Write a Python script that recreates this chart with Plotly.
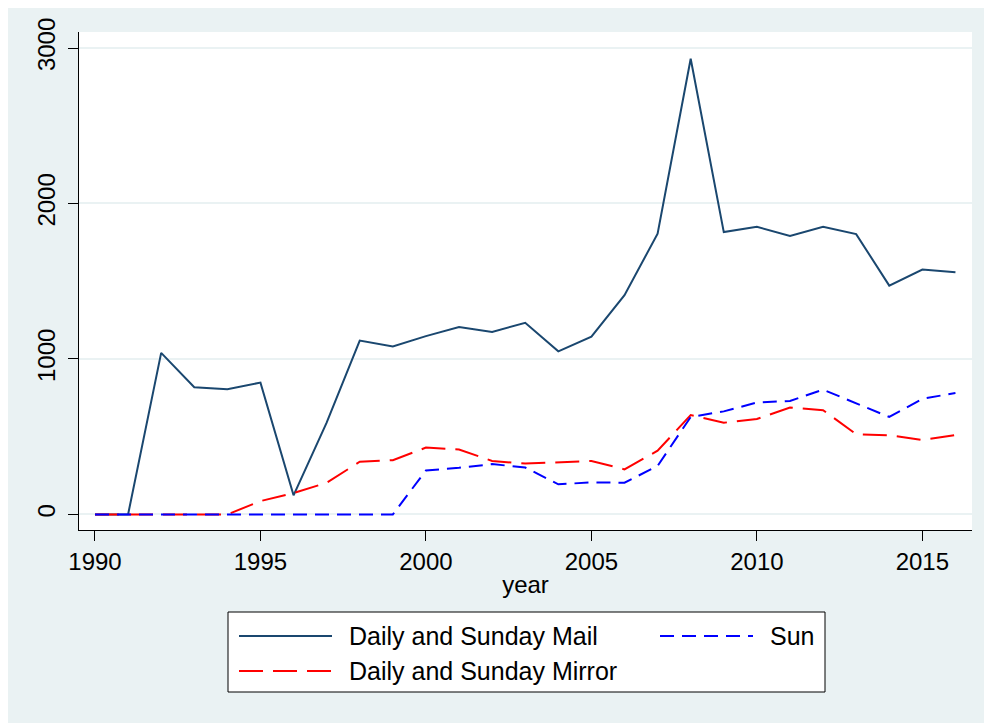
import plotly.graph_objects as go

years = list(range(1990, 2017))
series_names = ["Daily and Sunday Mail", "Sun", "Daily and Sunday Mirror"]
mail = [0, 0, 1039, 818, 806, 848, 123, 590, 1118, 1081, 1147, 1206, 1174, 1233,
        1049, 1143, 1410, 1806, 2931, 1816, 1850, 1791, 1850, 1803, 1472, 1575, 1558]
sun = [0, 0, 0, 0, 0, 0, 0, 0, 0, 0, 283, 300, 324, 302, 194, 206, 204, 312,
       627, 663, 720, 730, 803, 713, 627, 744, 781]
mirror = [0, 0, 0, 0, 0, 86, 138, 204, 339, 349, 430, 418, 344, 327, 337, 344,
          290, 410, 639, 590, 614, 688, 671, 516, 509, 479, 511]
x_ticks = [1990, 1995, 2000, 2005, 2010, 2015]
y_ticks = [0, 1000, 2000, 3000]
x_title = "year"

# page has an 8px body margin; figure is sized to fill the rest of the window
OFF = 8
W, H = 992 - OFF, 723 - OFF
L, T = 79 - OFF, 32 - OFF
R = W - (972 - OFF)
B = H - (530 - OFF)
PW, PH = W - L - R, H - T - B

def px(x):  # page pixel -> paper fraction
    return (x - OFF - L) / PW

def py(y):
    return (H - B - (y - OFF)) / PH

NAVY = "#1a476f"
RED = "#ff0000"
BLUE = "#0000ff"
BG = "#eaf2f3"
FONT = "Liberation Sans, Arial, sans-serif"

styles = {
    "Daily and Sunday Mail": dict(color=NAVY, width=2, dash="solid"),
    "Sun": dict(color=BLUE, width=2, dash="14px,8px"),
    "Daily and Sunday Mirror": dict(color=RED, width=2, dash="24px,10px"),
}
values = {"Daily and Sunday Mail": mail, "Sun": sun, "Daily and Sunday Mirror": mirror}

fig = go.Figure()
for name in ["Daily and Sunday Mail", "Daily and Sunday Mirror", "Sun"]:
    fig.add_trace(go.Scatter(x=years, y=values[name], mode="lines", name=name,
                             line=styles[name], showlegend=False))

shapes = [
    dict(type="rect", xref="paper", yref="paper", x0=0, x1=1, y0=0, y1=1,
         fillcolor="white", line=dict(width=0), layer="below"),
    # legend box
    dict(type="rect", xref="paper", yref="paper", x0=px(228), x1=px(825), y0=py(692), y1=py(612),
         fillcolor="white", line=dict(color="black", width=1), layer="above"),
]
legend_pos = [("Daily and Sunday Mail", 239, 636), ("Sun", 660, 636),
              ("Daily and Sunday Mirror", 239, 671)]
annotations = []
for name, kx, ky in legend_pos:
    st = styles[name]
    shapes.append(dict(type="line", xref="paper", yref="paper", x0=px(kx), x1=px(kx + 93),
                       y0=py(ky), y1=py(ky), line=dict(color=st["color"], width=2, dash=st["dash"]),
                       layer="above"))
    annotations.append(dict(xref="paper", yref="paper", x=px(kx + 108), y=py(ky), text=name,
                            showarrow=False, xanchor="left", yanchor="middle",
                            font=dict(family=FONT, size=25, color="black")))

fig.update_layout(
    width=W, height=H,
    margin=dict(l=L, r=R, t=T, b=B, autoexpand=False),
    paper_bgcolor=BG, plot_bgcolor="white",
    shapes=shapes, annotations=annotations,
    font=dict(family=FONT, size=24, color="black"),
    xaxis=dict(range=[1989.517, 2016.5], tickvals=x_ticks, ticks="outside", ticklen=10,
               tickcolor="black", showline=True, linecolor="black", linewidth=1,
               showgrid=False, zeroline=False, tickfont=dict(size=24),
               title=dict(text=x_title, font=dict(size=24), standoff=2)),
    yaxis=dict(range=[-100, 3103], tickvals=y_ticks, ticks="outside", ticklen=10,
               tickcolor="black", showline=True, linecolor="black", linewidth=1,
               showgrid=True, gridcolor=BG, gridwidth=2, zeroline=False,
               tickangle=-90, tickfont=dict(size=24), ticklabelstandoff=3),
)

fig.write_html("out.html")
